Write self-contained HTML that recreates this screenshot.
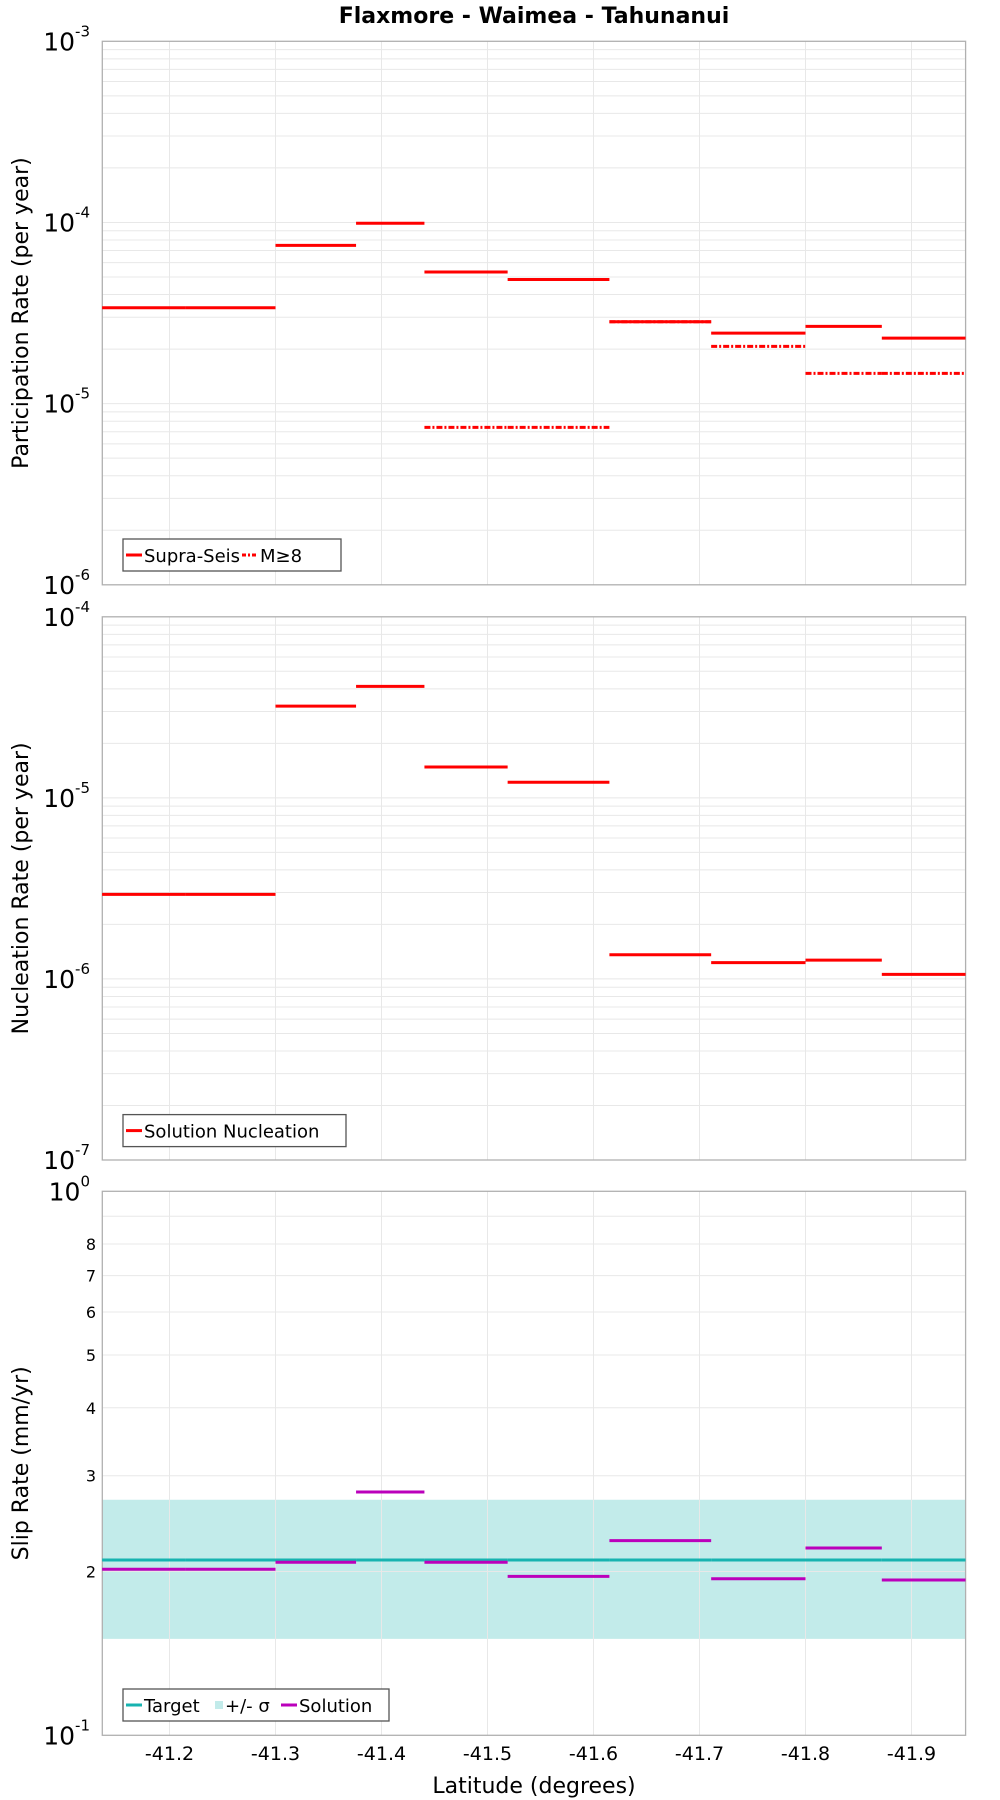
<!DOCTYPE html>
<html><head><meta charset="utf-8"><style>
body{margin:0;background:#fff;}
svg{display:block;font-family:"DejaVu Sans","Liberation Sans",sans-serif;}
</style></head><body>
<svg id="chart" width="1000" height="1800" xmlns="http://www.w3.org/2000/svg">
<text x="534" y="23" text-anchor="middle" font-weight="bold" font-size="22">Flaxmore - Waimea - Tahunanui</text>
<g id="p1"></g>
<g id="p2"></g>
<g id="p3"></g>
<text x="534" y="1793" text-anchor="middle" font-size="22">Latitude (degrees)</text>
</svg>
<script>
const bounds = [-41.1364,-41.2147,-41.300,-41.376,-41.4405,-41.519,-41.615,-41.711,-41.800,-41.872,-41.951];
const xTicks = [-41.2,-41.3,-41.4,-41.5,-41.6,-41.7,-41.8,-41.9];
const supraSeis = [3.38e-5,3.38e-5,7.47e-5,9.9e-5,5.33e-5,4.84e-5,2.83e-5,2.45e-5,2.67e-5,2.30e-5];
const m8 = [null,null,null,null,7.40e-6,7.40e-6,2.83e-5,2.07e-5,1.47e-5,1.47e-5];
const nucleation = [2.93e-6,2.93e-6,3.21e-5,4.13e-5,1.48e-5,1.22e-5,1.36e-6,1.23e-6,1.27e-6,1.06e-6];
const target = [2.10,2.10,2.10,2.10,2.10,2.10,2.10,2.10,2.10,2.10];
const sigmaLow = 1.504, sigmaHigh = 2.71;
const solution = [2.02,2.02,2.08,2.80,2.08,1.96,2.28,1.94,2.21,1.93];
const p1Decades = [-6,-5,-4,-3];
const p2Decades = [-7,-6,-5,-4];
const p3MinorLabels = ["2","3","4","5","6","7","8"];

const NS="http://www.w3.org/2000/svg";
const L=102.3,R=965.6;
function X(lat){return 169.5+(-41.2-lat)*(-1)*(-1060)*-1;} 
function xs(lat){return 169.5+(-41.2-lat)*1060;}
function mk(tag,attrs,parent){const e=document.createElementNS(NS,tag);for(const k in attrs)e.setAttribute(k,attrs[k]);parent.appendChild(e);return e;}
function yScale(top,bot,lmin,lmax){return v=>bot-(Math.log10(v)-lmin)/(lmax-lmin)*(bot-top);}

function panel(g,top,bot,lmin,lmax,title){
  const y=yScale(top,bot,lmin,lmax);
  // minor grid
  for(let d=lmin;d<lmax;d++){for(let m=1;m<=9;m++){const v=m*Math.pow(10,d);if(m==1&&d==lmin)continue;
    const gl=mk('line',{x1:L,x2:R,y1:y(v),y2:y(v),stroke:'#e8e8e8','stroke-width':1},g);
    
    }}
  xTicks.forEach(t=>{const gl=mk('line',{x1:xs(t),x2:xs(t),y1:top,y2:bot,stroke:'#e8e8e8','stroke-width':1},g);
    
    });
  const fr=mk('rect',{x:L,y:top,width:R-L,height:bot-top,fill:'none',stroke:'#b0b0b0','stroke-width':1.3},g);
  
  
  const yt=mk('text',{transform:`translate(28,${(top+bot)/2}) rotate(-90)`,'text-anchor':'middle','font-size':22},g);
  yt.textContent=title;
  
  
  return y;
}
function decadeLabel(g,yv,exp){
  const t=mk('text',{x:90,y:yv+9,'text-anchor':'end','font-size':25},g);
  t.textContent='10';
  const s=mk('tspan',{dy:-14,'font-size':15},t);s.textContent=String(exp);
  
  
}
function segs(g,vals,y,color,dash,name){
  vals.forEach((v,i)=>{if(v==null)return;
    const a={x1:xs(bounds[i]),x2:xs(bounds[i+1]),y1:y(v),y2:y(v),stroke:color,'stroke-width':3};
    if(dash)a['stroke-dasharray']=dash;
    const l=mk('line',a,g);
    
    });
}
function legend(g,x,y,w,items){
  const r=mk('rect',{x:x,y:y,width:w,height:32,fill:'#fff',stroke:'#555','stroke-width':1.3},g);
  
  
  let cx=x+3;
  items.forEach(it=>{
    if(it.type==='rect'){const s=mk('rect',{x:cx,y:y+12,width:8,height:8,fill:it.color},g);cx+=10;}
    else{const a={x1:cx,x2:cx+16,y1:y+16,y2:y+16,stroke:it.color,'stroke-width':3};if(it.dash)a['stroke-dasharray']=it.dash;
      const s=mk('line',a,g);cx+=18;}
    const t=mk('text',{x:cx,y:y+23,'font-size':18},g);t.textContent=it.label;
    
    
    cx+=it.w;
  });
}
// Panel 1
const g1=document.getElementById('p1');
const y1=panel(g1,41.3,584.8,-6,-3,'Participation Rate (per year)');
p1Decades.forEach(d=>decadeLabel(g1,y1(Math.pow(10,d)),d));
segs(g1,supraSeis,y1,'#ff0000',null,'supra-seis-segment');
segs(g1,m8,y1,'#ff0000','6,2,2,2','m8-segment');
legend(g1,123,539,218,[{color:'#f00',label:'Supra-Seis',w:98},{color:'#f00',dash:'4,2,2,2',label:'M≥8',w:50}]);
// Panel 2
const g2=document.getElementById('p2');
const y2=panel(g2,616.8,1160,-7,-4,'Nucleation Rate (per year)');
p2Decades.forEach(d=>decadeLabel(g2,y2(Math.pow(10,d)),d));
segs(g2,nucleation,y2,'#ff0000',null,'nucleation-segment');
legend(g2,123,1114.6,223,[{color:'#f00',label:'Solution Nucleation',w:200}]);
// Panel 3
const g3=document.getElementById('p3');
const y3=panel(g3,1191.3,1735.3,0,1,'Slip Rate (mm/yr)');
const band=mk('rect',{x:L,y:y3(sigmaHigh),width:R-L,height:y3(sigmaLow)-y3(sigmaHigh),fill:'#c2ebea'},g3);


g3.insertBefore(band,g3.firstChild);
decadeLabel(g3,y3(10),0);decadeLabel(g3,y3(1),-1);
p3MinorLabels.forEach(s=>{const t=mk('text',{x:96,y:y3(+s)+6,'text-anchor':'end','font-size':16},g3);t.textContent=s;
  
  });
segs(g3,target,y3,'#17b3b0',null,'target-segment');
segs(g3,solution,y3,'#bb00bb',null,'solution-segment');
legend(g3,123,1689,266,[{color:'#17b3b0',label:'Target',w:71},{type:'rect',color:'#c2ebea',label:'+/- σ',w:56},{color:'#bb00bb',label:'Solution',w:80}]);
// x tick labels
const svg=document.getElementById('chart');
xTicks.forEach(t=>{const e=mk('text',{x:xs(t),y:1760,'text-anchor':'middle','font-size':19},svg);e.textContent=t.toFixed(1);
  
  });
</script>
</body></html>
